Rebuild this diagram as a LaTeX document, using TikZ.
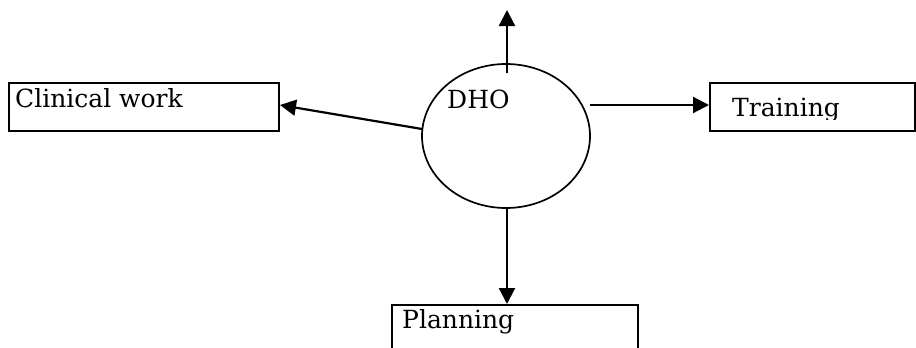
\documentclass[tikz,border=0pt]{standalone}
\usepackage{fontspec}
\setmainfont{DejaVu Serif}
\usetikzlibrary{arrows.meta,shapes.geometric}
\tikzset{
  boxstyle/.style={draw, line width=2pt, inner sep=0pt, minimum width=#1, minimum height=48pt},
  lbl/.style={anchor=base west, inner sep=0pt, font=\fontsize{25}{30}\selectfont},
  conn/.style={line width=2.2pt, -{Triangle[length=16pt,width=16pt]}},
}
\begin{document}
\begin{tikzpicture}[x=1pt,y=-1pt]
\useasboundingbox (0,0) rectangle (916,348);
\clip (0,0) rectangle (916,348);
% boxes
\node[boxstyle=270pt] (clin) at (144,107) {};
\node[boxstyle=205pt] (train) at (812.5,107) {};
\node[draw, line width=2pt, inner sep=0pt, minimum width=246pt, minimum height=70pt] (plan) at (515,340) {};
% ellipse
\node[draw, ellipse, line width=1.7pt, minimum width=168pt, minimum height=144pt, inner sep=0pt] (dho) at (506,136) {};
% labels
\node[lbl] (tclin) at (15,107) {Clinical work};
\node[lbl] (tdho) at (447,108) {DHO};
\node[lbl] (tplan) at (402,328) {Planning};
\begin{scope}
\clip (700,80) rectangle (916,119.5);
\node[lbl] (ttrain) at (732,116.5) {Training};
\end{scope}
% connectors
\coordinate (upstart) at (507,73);
\coordinate (uptip) at (507,10);
\coordinate (rstart) at (590,105);
\coordinate (lstart) at (422,129);
\draw[conn] (upstart) -- (uptip);
\draw[conn] (rstart) -- ([yshift=2pt]train.west);
\draw[conn] (lstart) -- ([yshift=2pt]clin.east);
\draw[conn] ([xshift=1pt]dho.south) -- ([xshift=1pt]dho.south |- plan.north);
\end{tikzpicture}
\end{document}
